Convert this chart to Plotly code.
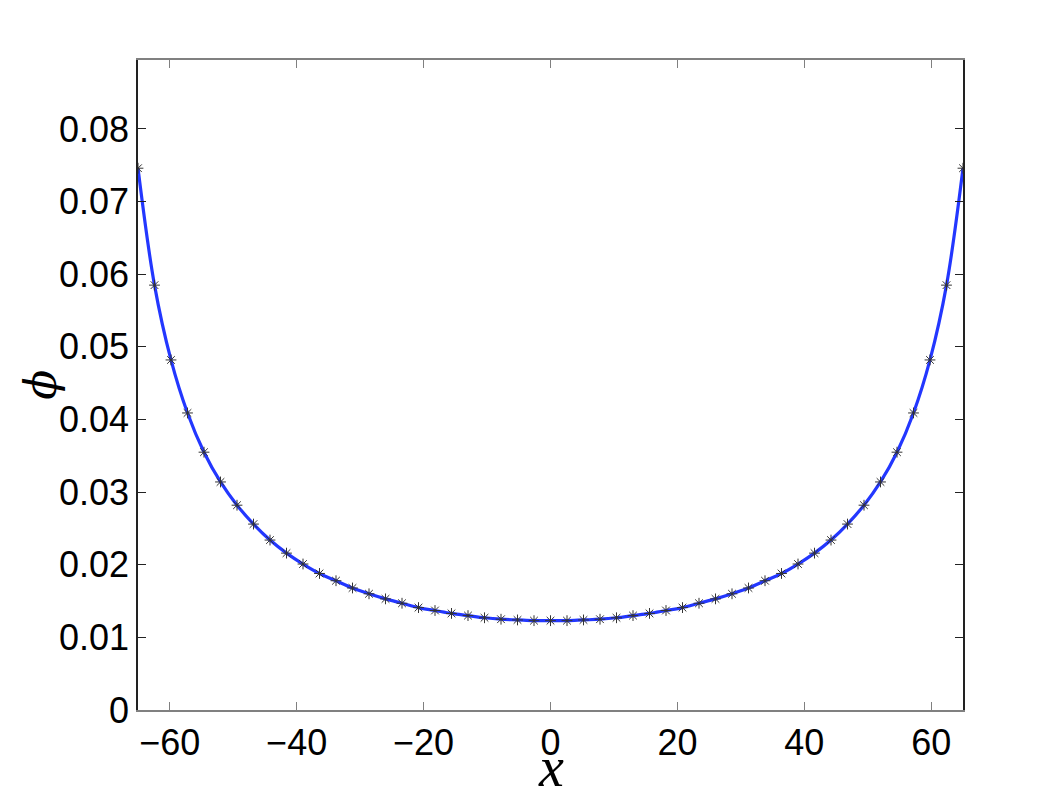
import plotly.graph_objects as go

# sample points (symmetric profile)
x_left = [-65.0, -62.4, -59.8, -57.2, -54.6, -52.0, -49.4, -46.8, -44.2, -41.6,
          -39.0, -36.4, -33.8, -31.2, -28.6, -26.0, -23.4, -20.8, -18.2, -15.6,
          -13.0, -10.4, -7.8, -5.2, -2.6]
phi_left = [0.0746, 0.0585, 0.0482, 0.0409, 0.0355, 0.0314, 0.0282, 0.0256, 0.0234, 0.0216,
            0.0201, 0.0188, 0.0178, 0.0168, 0.0160, 0.0153, 0.0147, 0.0141, 0.0137, 0.0133,
            0.0130, 0.0127, 0.0125, 0.0124, 0.0123]
x_mid = [0.0]
phi_mid = [0.0123]

x_vals = x_left + x_mid + [-v for v in reversed(x_left)]
phi_vals = phi_left + phi_mid + list(reversed(phi_left))

x_ticks = [-60, -40, -20, 0, 20, 40, 60]
y_ticks = [0, 0.01, 0.02, 0.03, 0.04, 0.05, 0.06, 0.07, 0.08]

fig = go.Figure()
fig.add_trace(go.Scatter(x=x_vals, y=phi_vals, mode="lines",
                         line=dict(color="rgb(35,55,255)", width=3.2, shape="spline"),
                         showlegend=False, hoverinfo="skip"))
fig.add_trace(go.Scatter(x=x_vals, y=phi_vals, mode="markers",
                         marker=dict(symbol="asterisk-open", size=9, color="#333333",
                                     line=dict(color="#333333", width=1)),
                         showlegend=False))

tick_font = dict(family="Liberation Sans, Arial, sans-serif", size=36, color="black")
fig.update_xaxes(range=[-65, 65], tickvals=x_ticks, ticks="inside", ticklen=8,
                 tickcolor="#808080", showline=True, linecolor="#808080", linewidth=1.5,
                 mirror="ticks", showgrid=False, zeroline=False, tickfont=tick_font)
fig.update_yaxes(range=[0, 0.0895], tickvals=y_ticks, ticktext=[str(v) for v in y_ticks],
                 ticks="inside", ticklen=8, tickcolor="#222222", showline=True,
                 linecolor="#222222", linewidth=1.5, mirror="ticks", showgrid=False,
                 zeroline=False, tickfont=tick_font)

fig.update_layout(
    width=1063, height=800,
    margin=dict(l=130, r=108, t=52, b=98),
    plot_bgcolor="white", paper_bgcolor="white",
    annotations=[
        dict(text="<i>x</i>", xref="paper", yref="paper", x=0.5, y=-0.088,
             xanchor="center", yanchor="middle", showarrow=False,
             font=dict(family="Liberation Serif, serif", size=56, color="black")),
        dict(text="<i>ϕ</i>", xref="paper", yref="paper", x=-0.119, y=0.5,
             xanchor="center", yanchor="middle", showarrow=False, textangle=-90,
             font=dict(family="DejaVu Serif, serif", size=44, color="black")),
    ],
)

fig.write_html("out.html")
